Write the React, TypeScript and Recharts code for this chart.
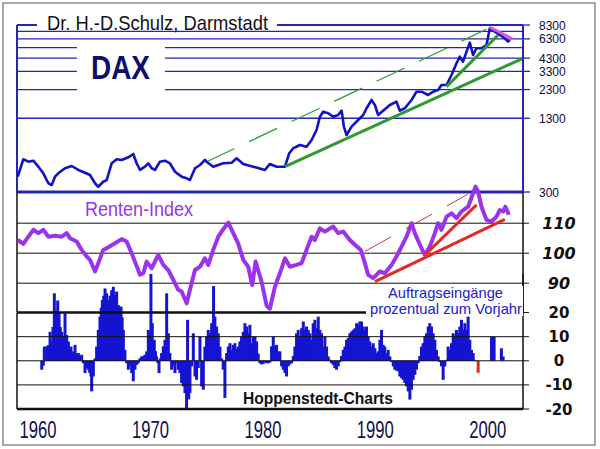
import { ComposedChart, Line, Bar, Cell, XAxis, YAxis, ReferenceLine } from "recharts";

const X_MIN = 1958.13;
const X_MAX = 2003.13;

const yearTicks = [1960, 1970, 1980, 1990, 2000];
const daxTicks = [300, 1300, 2300, 3300, 4300, 6300, 8300];
const daxGrid = [1300, 2300, 3300, 4300, 5300, 6300, 7300];
const rentenTicks = [90, 100, 110];
const orderTicks = [-20, -10, 0, 10, 20];

// DAX, log scale (year, index)
const daxValues: [number, number][] = [
  [1958.2, 407], [1958.69, 575], [1959.14, 548], [1959.58, 559], [1960.03, 496], [1960.47, 435],
  [1960.92, 357], [1961.22, 345], [1961.51, 407], [1961.8, 435], [1962.4, 481], [1963.0, 503],
  [1963.58, 465], [1964.18, 440], [1964.62, 421], [1965.07, 357], [1965.36, 333], [1965.8, 368],
  [1966.11, 381], [1966.55, 531], [1967.0, 575], [1967.44, 567], [1968.03, 598], [1968.47, 639],
  [1968.77, 531], [1969.07, 465], [1969.51, 496], [1969.8, 531], [1970.11, 481], [1970.4, 465],
  [1970.84, 548], [1971.29, 559], [1971.73, 531], [1972.18, 449], [1972.77, 407], [1973.22, 394],
  [1973.51, 381], [1973.96, 481], [1974.4, 513], [1974.84, 567], [1974.99, 548], [1975.58, 496],
  [1976.47, 531], [1977.22, 537], [1977.66, 586], [1978.25, 524], [1979.14, 496], [1980.18, 465],
  [1980.62, 524], [1981.22, 496], [1981.96, 496], [1982.34, 648], [1982.69, 716], [1983.29, 764],
  [1983.88, 738], [1984.33, 844], [1984.77, 1029], [1985.07, 1341], [1985.36, 1481], [1985.8, 1435],
  [1986.25, 1341], [1986.69, 1387], [1987.0, 1511], [1987.2, 1099], [1987.44, 932], [1987.88, 1099],
  [1988.47, 1256], [1988.92, 1387], [1989.22, 1585], [1989.66, 1869], [1989.96, 1692], [1990.25, 1387],
  [1990.69, 1511], [1991.29, 1692], [1991.88, 1807], [1992.18, 1511], [1992.62, 1585], [1993.22, 1869],
  [1993.66, 2204], [1994.11, 2204], [1994.69, 2064], [1995.14, 2204], [1995.58, 2280], [1995.88, 2518],
  [1996.33, 2518], [1996.77, 3072], [1997.22, 3879], [1997.51, 4422], [1997.8, 4003], [1998.11, 4884],
  [1998.4, 5841], [1998.69, 4573], [1998.99, 5226], [1999.43, 5226], [1999.88, 5580], [2000.18, 7777],
  [2000.62, 7269], [2001.07, 6807], [2001.51, 6374], [2001.8, 5958], [2001.96, 6162],
];
const daxTrendLong: [number, number][] = [[1981.96, 496], [2003.13, 4284]];
const daxTrendSteep: [number, number][] = [[1996.33, 2435], [2000.92, 6807]];
const daxChannel: [number, number][] = [[1974.99, 548], [1999.88, 7623]];
const daxTopLine: [number, number][] = [[2000.18, 7933], [2002.25, 6250]];

// Renten-Index (year, index)
const rentenValues: [number, number][] = [
  [1958.2, 104.4], [1958.69, 103.1], [1959.14, 105.5], [1959.58, 107.8], [1960.03, 106.7], [1960.47, 107.8],
  [1960.92, 105.5], [1961.51, 105.8], [1962.11, 105.5], [1962.55, 106.7], [1962.84, 105], [1963.44, 103.9],
  [1963.88, 101.1], [1964.33, 98.9], [1964.62, 97.8], [1965.07, 93.9], [1965.36, 96.7], [1965.8, 101.1],
  [1966.25, 102], [1966.84, 103.3], [1967.44, 104.7], [1967.88, 103.9], [1968.33, 100], [1968.62, 97.2],
  [1969.07, 92.8], [1969.36, 93.3], [1969.66, 97.2], [1970.11, 95], [1970.69, 99.4], [1971.14, 96.1],
  [1971.58, 94.4], [1972.03, 91.1], [1972.47, 87.8], [1972.77, 87.2], [1973.22, 83.3], [1973.51, 87.8],
  [1973.96, 94.4], [1974.4, 95.5], [1974.84, 98.3], [1975.14, 96.1], [1975.58, 101.1], [1976.03, 105.5],
  [1976.47, 108], [1976.92, 110.2], [1977.36, 106.7], [1977.8, 103.3], [1978.25, 97.8], [1978.69, 95.5],
  [1979.05, 89.4], [1979.35, 97.2], [1979.88, 90.5], [1980.33, 82.5], [1980.62, 81.5], [1981.07, 88.9],
  [1981.51, 93.3], [1981.96, 98.3], [1982.4, 95.5], [1982.99, 96.1], [1983.44, 96.7], [1983.88, 101.1],
  [1984.33, 105.5], [1984.62, 104.4], [1985.07, 108.3], [1985.51, 107.2], [1986.25, 108.9], [1986.69, 106.7],
  [1987.14, 107.2], [1987.73, 104.4], [1988.18, 102.8], [1988.71, 101.1], [1989.07, 96.7], [1989.36, 92.8],
  [1989.8, 91.7], [1990.4, 93.9], [1990.84, 93.3], [1991.44, 96.1], [1991.88, 98.9], [1992.33, 102.2],
  [1992.77, 105.5], [1993.22, 110], [1993.51, 106.7], [1993.96, 102.8], [1994.4, 99.4], [1994.84, 102.2],
  [1995.29, 106.7], [1995.58, 110], [1995.88, 107.8], [1996.33, 112.2], [1996.77, 113.3], [1997.22, 111.7],
  [1997.66, 113.9], [1998.25, 115.5], [1998.69, 120], [1998.91, 122.2], [1999.14, 120.5], [1999.44, 115.5],
  [1999.88, 111.1], [2000.33, 110.5], [2000.77, 112.2], [2001.07, 114.4], [2001.36, 113.9], [2001.57, 115.5],
  [2001.87, 112.8],
];
const rentenTrendLong: [number, number][] = [[1989.96, 90.5], [2001.51, 111.3]];
const rentenTrendSteep: [number, number][] = [[1994.4, 99.4], [1998.99, 116.1]];
const rentenChannel: [number, number][] = [[1989.07, 100.6], [1998.2, 119.6]];

// Auftragseingaenge, % zum Vorjahr (year, value)
const orderValues: [number, number][] = [
  [1960.33, -3.7], [1960.47, -2], [1960.56, 5.9], [1960.77, 6], [1960.92, 6.5], [1961.07, 12], [1961.21, 8],
  [1961.33, 14], [1961.45, 28], [1961.57, 20.4], [1961.66, 15], [1961.75, 25], [1961.87, 19.7], [1961.98, 14],
  [1962.1, 12], [1962.25, 10], [1962.4, 19.7], [1962.55, 10.7], [1962.7, 8], [1962.82, 4.5], [1962.93, 5.9],
  [1963.14, 3.9], [1963.29, 6.6], [1963.44, 3], [1963.59, 3.2], [1963.74, 2], [1963.88, 2.5], [1964.03, -1],
  [1964.18, -5.1], [1964.33, -3], [1964.47, -3.7], [1964.59, -5], [1964.71, -6.5], [1964.77, -12.7],
  [1964.92, -6.5], [1965.06, 1], [1965.21, 5.9], [1965.36, 12.8], [1965.51, 18.3], [1965.62, 22],
  [1965.72, 25.2], [1965.84, 27], [1965.96, 30], [1966.1, 28], [1966.25, 25.2], [1966.4, 27], [1966.55, 29.3],
  [1966.7, 30.7], [1966.84, 27.3], [1966.99, 28.7], [1967.14, 23.1], [1967.26, 22], [1967.38, 22.5],
  [1967.48, 18], [1967.59, 12.8], [1967.73, 4.5], [1967.88, -1], [1968.03, -3.7], [1968.18, -2.3],
  [1968.33, -5.1], [1968.47, -8.5], [1968.62, -3.7], [1968.77, -1.7], [1968.92, -1], [1969.06, 1],
  [1969.21, 1.8], [1969.36, 2], [1969.51, 2.5], [1969.66, 3.9], [1969.81, 12.8], [1969.93, 10], [1970.04, 36],
  [1970.16, 15.6], [1970.34, 8.7], [1970.45, 4], [1970.55, 1.8], [1970.66, -1], [1970.76, -5.1], [1970.88, 1],
  [1970.99, 3.2], [1971.14, 6], [1971.29, 8.7], [1971.44, 28], [1971.59, 11.4], [1971.73, 3.2],
  [1971.88, -3.7], [1972.03, -2], [1972.18, -5.1], [1972.33, -1], [1972.47, -3.7], [1972.62, -5.1],
  [1972.77, -9.2], [1972.92, -10.6], [1973.07, -13.4], [1973.21, -19.6], [1973.3, 17], [1973.4, -16],
  [1973.51, -13.4], [1973.66, -2.3], [1973.81, 11.4], [1973.96, -6.5], [1974.1, -7.9], [1974.25, -3],
  [1974.4, 10], [1974.55, -10.6], [1974.7, -12], [1974.84, 5.9], [1974.99, 10], [1975.14, 12.8],
  [1975.29, 11.4], [1975.44, 15.6], [1975.61, 31], [1975.73, 18.3], [1975.88, 14.2], [1976.03, 11.4],
  [1976.18, 5.9], [1976.33, 1], [1976.47, -3.7], [1976.62, -15.4], [1976.77, 3.2], [1976.92, 5.9],
  [1977.07, 7.3], [1977.21, 4.5], [1977.36, 6.6], [1977.51, 7.3], [1977.66, 5], [1977.81, 5.9], [1977.95, 8],
  [1978.1, 10], [1978.25, 12], [1978.4, 15.6], [1978.55, 14.2], [1978.7, 11.4], [1978.84, 14.9],
  [1978.99, 7.3], [1979.14, 10], [1979.29, 10], [1979.44, 8], [1979.58, 3], [1979.73, -1], [1979.88, -1.5],
  [1980.03, -1.3], [1980.18, -0.5], [1980.33, -1], [1980.48, -1], [1980.62, -0.7], [1980.77, 6], [1980.92, 10],
  [1981.07, 5.9], [1981.21, 6.6], [1981.36, 3.9], [1981.51, 3.9], [1981.66, -2.3], [1981.81, -3.7],
  [1981.96, -5.1], [1982.1, -6.5], [1982.25, -2.3], [1982.4, -1.5], [1982.55, -1], [1982.7, 2], [1982.84, 5.9],
  [1982.99, 11.4], [1983.14, 12.8], [1983.29, 10], [1983.44, 13.5], [1983.59, 16.3], [1983.73, 12.8],
  [1983.88, 14.2], [1984.03, 12.8], [1984.18, 11.4], [1984.33, 8.7], [1984.47, 15.6], [1984.62, 17],
  [1984.77, 13.5], [1984.92, 18.3], [1985.07, 12.8], [1985.21, 11.4], [1985.36, 5.9], [1985.51, 10],
  [1985.66, 5.9], [1985.81, 1.8], [1985.95, 0.5], [1986.1, -1], [1986.25, -1.7], [1986.4, -3], [1986.55, -3.7],
  [1986.7, -2.3], [1986.84, -0.5], [1986.99, 2], [1987.14, 4.5], [1987.29, 5.9], [1987.44, 8.7], [1987.59, 9.4],
  [1987.73, 11.4], [1987.88, 12.1], [1988.03, 12.8], [1988.18, 13.5], [1988.33, 15.6], [1988.47, 14.9],
  [1988.62, 16.3], [1988.77, 16.3], [1988.92, 14.2], [1989.07, 12.8], [1989.21, 14.2], [1989.36, 10],
  [1989.51, 8], [1989.66, 5.9], [1989.81, 7.3], [1989.96, 5.2], [1990.1, 3.2], [1990.25, 3.9], [1990.4, 8.7],
  [1990.55, 12.8], [1990.7, 6.6], [1990.84, 5.9], [1990.99, 3.2], [1991.14, 4.5], [1991.29, 1.8],
  [1991.44, -0.5], [1991.59, -2.3], [1991.73, -3.7], [1991.88, -4], [1992.03, -4.4], [1992.18, -6.5],
  [1992.33, -7.2], [1992.47, -7.9], [1992.62, -9.2], [1992.77, -10.6], [1992.92, -12.7], [1993.07, -16.1],
  [1993.21, -12], [1993.36, -7.9], [1993.51, -5.8], [1993.66, -3.7], [1993.81, -1], [1993.95, 2], [1994.1, 5.9],
  [1994.25, 7.3], [1994.4, 10], [1994.55, 11.4], [1994.7, 14.2], [1994.84, 15.6], [1994.99, 14.2],
  [1995.14, 11.4], [1995.29, 8.7], [1995.44, 4.5], [1995.59, 1.8], [1995.73, -0.5], [1995.88, -2.3],
  [1996.03, -7.9], [1996.18, -2.3], [1996.33, 0.4], [1996.47, 5.9], [1996.62, 4.5], [1996.77, 7.3],
  [1996.92, 11.4], [1997.07, 10], [1997.21, 12.8], [1997.36, 11.4], [1997.51, 14.2], [1997.66, 17],
  [1997.81, 12.8], [1997.96, 15.6], [1998.1, 12.8], [1998.25, 18.3], [1998.4, 8.7], [1998.55, 4.5],
  [1998.7, 3.2], [1998.84, 0.4], [1999.14, -5], [2000.33, 10], [2000.56, 10], [2001.21, 5.2], [2001.36, 1.8],
];

const pts = (a: [number, number][]) => a.map(([x, y]) => ({ x, y }));

const NAVY = "#0a0a3c";
const GRID_BLUE = "#2626b2";
const DAX_BLUE = "#1212c4";
const GREEN = "#2f9a2f";
const MAGENTA = "#e050e0";
const PURPLE = "#9a33ea";
const RED = "#e32a22";
const BAR_BLUE = "#1414d2";
const NARROW = "'Liberation Sans Narrow', 'Liberation Sans', Arial, sans-serif";

const DaxTick = ({ x, y, payload }: any) => (
  <text x={x} y={y} dy={4.5} fontSize={12} fontFamily="'Liberation Sans', Arial" fill={NAVY} textAnchor="start">
    {payload.value}
  </text>
);

const RentenTick = ({ x, y, payload }: any) => (
  <text x={x + 28} y={y} dy={6} fontSize={16} fontWeight="bold" fontStyle="italic" fontFamily="'DejaVu Sans', sans-serif" fill="#111" textAnchor="middle">
    {payload.value}
  </text>
);

const OrderTick = ({ x, y, payload }: any) => (
  <text x={x + 28} y={y} dy={5.5} fontSize={15} fontWeight="bold" fontFamily="'DejaVu Sans', sans-serif" fill="#111" textAnchor="middle">
    {payload.value}
  </text>
);

const YearTick = ({ x, y, payload }: any) => (
  <text x={x} y={y} dy={21} fontSize={24} fontFamily={NARROW} fill="#10104a" textAnchor="middle" textLength={37} lengthAdjust="spacingAndGlyphs">
    {payload.value}
  </text>
);

// fixed 3px wide bars, centred on the year
const OrderBar = (props: any) => {
  const { x, y, width, height, fill } = props;
  const cx = x + width / 2;
  const top = Math.min(y, y + height);
  return <rect x={cx - 1.5} y={top} width={3} height={Math.abs(height)} fill={fill} />;
};

const layer = { position: "absolute" as const, left: 0, top: 0 };

export default function App() {
  return (
    <div style={{ position: "absolute", left: 0, top: 0, width: 600, height: 449, background: "#fff", overflow: "hidden" }}>
      {/* DAX */}
      <div style={layer}>
        <ComposedChart width={600} height={200} margin={{ top: 25, right: 7, bottom: 8, left: 17 }}>
          <XAxis type="number" dataKey="x" domain={[X_MIN, X_MAX]} allowDataOverflow hide />
          <YAxis
            orientation="right"
            type="number"
            scale="log"
            domain={[300, 8300]}
            allowDataOverflow
            ticks={daxTicks}
            interval={0}
            width={70}
            axisLine={{ stroke: GRID_BLUE, strokeWidth: 2 }}
            tickLine={{ stroke: GRID_BLUE, strokeWidth: 1.3 }}
            tickSize={7}
            tickMargin={9}
            tick={<DaxTick />}
          />
          {daxGrid.map((v) => (
            <ReferenceLine key={v} y={v} stroke={GRID_BLUE} strokeWidth={1.3} />
          ))}
          <ReferenceLine y={8300} stroke={GRID_BLUE} strokeWidth={2} />
          <ReferenceLine y={300} stroke={GRID_BLUE} strokeWidth={3} />
          <ReferenceLine x={X_MIN} stroke={GRID_BLUE} strokeWidth={2} />
          <Line data={pts(daxChannel)} dataKey="y" stroke={GREEN} strokeWidth={1.2} strokeDasharray="31 16" dot={false} isAnimationActive={false} />
          <Line data={pts(daxValues)} dataKey="y" stroke={DAX_BLUE} strokeWidth={2.6} strokeLinejoin="round" dot={false} isAnimationActive={false} />
          <Line data={pts(daxTrendLong)} dataKey="y" stroke={GREEN} strokeWidth={3} dot={false} isAnimationActive={false} />
          <Line data={pts(daxTrendSteep)} dataKey="y" stroke={GREEN} strokeWidth={3} dot={false} isAnimationActive={false} />
          <Line data={pts(daxTopLine)} dataKey="y" stroke={MAGENTA} strokeWidth={3} dot={false} isAnimationActive={false} />
        </ComposedChart>
      </div>

      {/* Auftragseingaenge */}
      <div style={layer}>
        <ComposedChart data={pts(orderValues)} width={600} height={449} margin={{ top: 274, right: 7, bottom: 10, left: 17 }}>
          <XAxis
            type="number"
            dataKey="x"
            domain={[X_MIN, X_MAX]}
            allowDataOverflow
            ticks={yearTicks}
            interval={0}
            height={30}
            axisLine={false}
            tickLine={false}
            tick={<YearTick />}
          />
          <YAxis
            orientation="right"
            type="number"
            domain={[-20, 36]}
            allowDataOverflow
            ticks={orderTicks}
            interval={0}
            width={70}
            axisLine={{ stroke: "#111", strokeWidth: 1.5 }}
            tickLine={{ stroke: "#111", strokeWidth: 1 }}
            tickSize={6}
            tickMargin={2}
            tick={<OrderTick />}
          />
          <Bar dataKey="y" fill={BAR_BLUE} shape={<OrderBar />} isAnimationActive={false}>
            {orderValues.map(([x], i) => (
              <Cell key={i} fill={x > 1999 && x < 2000 ? RED : BAR_BLUE} />
            ))}
          </Bar>
          {[10, 0, -10].map((v) => (
            <ReferenceLine key={v} y={v} stroke="#111" strokeWidth={1} />
          ))}
          <ReferenceLine y={20} stroke="#111" strokeWidth={2.5} />
          <ReferenceLine y={-20} stroke="#111" strokeWidth={2.5} />
          <ReferenceLine segment={[{ x: X_MIN, y: 20 }, { x: X_MIN, y: -20 }]} stroke="#111" strokeWidth={1.5} />
        </ComposedChart>
      </div>

      {/* Renten-Index */}
      <div style={layer}>
        <ComposedChart width={600} height={320} margin={{ top: 180, right: 7, bottom: 8, left: 17 }}>
          <XAxis type="number" dataKey="x" domain={[X_MIN, X_MAX]} allowDataOverflow hide />
          <YAxis
            orientation="right"
            type="number"
            domain={[80.4, 124.4]}
            allowDataOverflow
            ticks={rentenTicks}
            interval={0}
            width={70}
            axisLine={false}
            tickLine={{ stroke: "#111", strokeWidth: 1 }}
            tickSize={6}
            tickMargin={2}
            tick={<RentenTick />}
          />
          {rentenTicks.map((v) => (
            <ReferenceLine key={v} y={v} stroke="#111" strokeWidth={1} />
          ))}
          <ReferenceLine segment={[{ x: X_MIN, y: 120.4 }, { x: X_MIN, y: 80.4 }]} stroke="#111" strokeWidth={1.5} />
          <ReferenceLine segment={[{ x: X_MAX, y: 120.4 }, { x: X_MAX, y: 80.4 }]} stroke="#111" strokeWidth={1.5} />
          <Line data={pts(rentenChannel)} dataKey="y" stroke="#b83a3a" strokeWidth={1} strokeDasharray="30 17" dot={false} isAnimationActive={false} />
          <Line data={pts(rentenValues)} dataKey="y" stroke={PURPLE} strokeWidth={4} strokeLinejoin="round" dot={false} isAnimationActive={false} />
          <Line data={pts(rentenTrendLong)} dataKey="y" stroke={RED} strokeWidth={3} dot={false} isAnimationActive={false} />
          <Line data={pts(rentenTrendSteep)} dataKey="y" stroke={RED} strokeWidth={3} dot={false} isAnimationActive={false} />
        </ComposedChart>
      </div>

      {/* Beschriftung */}
      <svg width={600} height={449} style={{ ...layer, pointerEvents: "none" }}>
        <rect x={3} y={3} width={592} height={442} fill="none" stroke="#555" strokeWidth={1} />
        <rect x={37} y={14} width={240} height={16} fill="#fff" />
        <text x={47} y={30} fontSize={21} fontFamily={NARROW} fill="#111" textLength={221} lengthAdjust="spacingAndGlyphs">
          Dr. H.-D.Schulz, Darmstadt
        </text>
        <rect x={77} y={42} width={88} height={56} fill="#fff" />
        <text x={91} y={79} fontSize={33} fontWeight="bold" fontFamily={NARROW} fill="#0e0e6e" textLength={59} lengthAdjust="spacingAndGlyphs">
          DAX
        </text>
        <text x={85} y={216} fontSize={21} fontFamily={NARROW} fill={PURPLE} textLength={108} lengthAdjust="spacingAndGlyphs">
          Renten-Index
        </text>
        <rect x={366} y={286} width={157} height={30} fill="#fff" />
        <text x={388} y={297.5} fontSize={14.5} fontFamily={NARROW} fill="#2020c8" textLength={115} lengthAdjust="spacingAndGlyphs">
          Auftragseingänge
        </text>
        <text x={370} y={314} fontSize={14.5} fontFamily={NARROW} fill="#2020c8" textLength={152} lengthAdjust="spacingAndGlyphs">
          prozentual zum Vorjahr
        </text>
        <text x={243} y={404} fontSize={17} fontWeight="bold" fontFamily={NARROW} fill="#111" textLength={150} lengthAdjust="spacingAndGlyphs">
          Hoppenstedt-Charts
        </text>
      </svg>
    </div>
  );
}
